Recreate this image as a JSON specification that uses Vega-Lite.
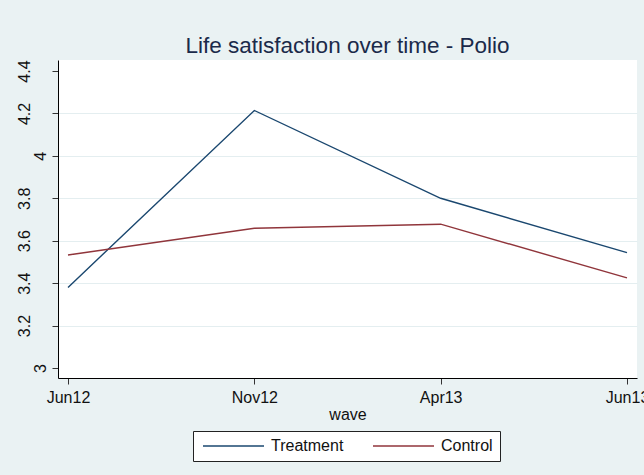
{
  "$schema": "https://vega.github.io/schema/vega-lite/v6.json",
  "width": 579,
  "height": 318,
  "autosize": {"type": "none"},
  "padding": {"left": 58, "top": 60, "right": 7, "bottom": 97},
  "background": "#eaf2f3",
  "title": {
    "text": "Life satisfaction over time - Polio",
    "anchor": "middle",
    "frame": "group",
    "font": "Liberation Sans",
    "fontSize": 22.5,
    "fontWeight": "normal",
    "color": "#1b2a4a",
    "baseline": "alphabetic",
    "offset": -16
  },
  "config": {
    "view": {"fill": "white", "stroke": null},
    "font": "Liberation Sans"
  },
  "data": {
    "values": [
      {"wave": "Jun12", "group": "Treatment", "value": 3.38},
      {"wave": "Nov12", "group": "Treatment", "value": 4.214},
      {"wave": "Apr13", "group": "Treatment", "value": 3.80},
      {"wave": "Jun13", "group": "Treatment", "value": 3.544},
      {"wave": "Jun12", "group": "Control", "value": 3.533},
      {"wave": "Nov12", "group": "Control", "value": 3.659},
      {"wave": "Apr13", "group": "Control", "value": 3.678},
      {"wave": "Jun13", "group": "Control", "value": 3.425}
    ]
  },
  "mark": {"type": "line", "strokeWidth": 1.4},
  "encoding": {
    "x": {
      "field": "wave",
      "type": "ordinal",
      "sort": ["Jun12", "Nov12", "Apr13", "Jun13"],
      "scale": {"type": "point", "padding": 0.0537},
      "axis": {
        "title": "wave",
        "titleFont": "Liberation Sans",
        "titleFontSize": 16,
        "titleFontWeight": "normal",
        "titleColor": "#111",
        "titlePadding": 1,
        "labelAngle": 0,
        "labelFont": "Liberation Sans",
        "labelFontSize": 16,
        "labelColor": "#111",
        "labelPadding": 5,
        "tickSize": 6,
        "tickColor": "#333",
        "domainColor": "#000",
        "domainWidth": 1,
        "grid": false
      }
    },
    "y": {
      "field": "value",
      "type": "quantitative",
      "scale": {"domain": [2.9529, 4.4519], "nice": false, "zero": false},
      "axis": {
        "title": null,
        "values": [3, 3.2, 3.4, 3.6, 3.8, 4, 4.2, 4.4],
        "format": "~g",
        "labelAngle": 270,
        "labelAlign": "center",
        "labelBaseline": "bottom",
        "labelFont": "Liberation Sans",
        "labelFontSize": 16,
        "labelColor": "#111",
        "labelPadding": {"condition": {"test": "datum.value == 3 || datum.value == 4", "value": 4}, "value": 20},
        "tickSize": 6,
        "tickColor": "#333",
        "domainColor": "#000",
        "domainWidth": 1,
        "grid": true,
        "gridColor": "#e4eef0",
        "gridWidth": 1,
        "gridOpacity": {"condition": {"test": "datum.value == 3 || datum.value == 4.4", "value": 0}, "value": 1}
      }
    },
    "color": {
      "field": "group",
      "type": "nominal",
      "scale": {"domain": ["Treatment", "Control"], "range": ["#1a476f", "#90353b"]},
      "legend": {
        "title": null,
        "orient": "none",
        "legendX": 135,
        "legendY": 371,
        "direction": "horizontal",
        "fillColor": "white",
        "strokeColor": "#222",
        "padding": 7,
        "symbolType": "M-1,0H11.2",
        "symbolSize": 100,
        "symbolStrokeWidth": 1.4,
        "labelFont": "Liberation Sans",
        "labelFontSize": 16,
        "labelColor": "#111",
        "labelOffset": 55,
        "columnPadding": 26
      }
    }
  }
}
